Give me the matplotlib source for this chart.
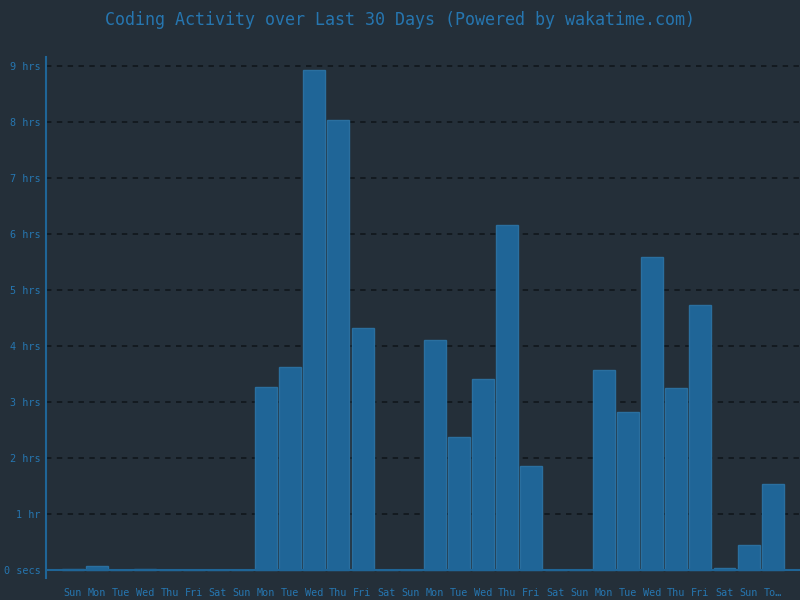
import matplotlib
matplotlib.use("Agg")
import matplotlib.pyplot as plt
import numpy as np

# hours of coding per day, last 30 days
days = ["Sun", "Mon", "Tue", "Wed", "Thu", "Fri", "Sat"] * 4 + ["Sun", "To…"]
hours = [0.01, 0.07, 0.0, 0.01, 0.0, 0.0, 0.0,
         0.0, 3.27, 3.63, 8.93, 8.04, 4.32, 0.0,
         0.0, 4.11, 2.38, 3.41, 6.16, 1.86, 0.0,
         0.0, 3.57, 2.82, 5.59, 3.25, 4.73, 0.03,
         0.45, 1.54]
ytick_vals = list(range(10))
ytick_labels = ["0 secs", "1 hr"] + [f"{h} hrs" for h in range(2, 10)]

bg = "#242f39"
txt = "#2676b0"
bar_face = "#1f6597"
bar_edge = "#2a6f9f"

plt.rcParams["font.family"] = "DejaVu Sans Mono"

fig = plt.figure(figsize=(8, 6), dpi=100, facecolor=bg)
ax = fig.add_axes([0.0575, 0.0367, 0.9425, 0.868])
ax.set_facecolor(bg)

x = np.arange(len(hours))
ax.bar(x, hours, width=0.91, color=bar_face, edgecolor=bar_edge, linewidth=1, zorder=3)

ax.set_xlim(-1.12, 30.13)
ax.set_ylim(-0.143, 9.16)

ax.set_yticks(ytick_vals)
ax.set_yticklabels(ytick_labels)
ax.set_xticks(x)
ax.set_xticklabels(days)
ax.tick_params(axis="both", length=0, colors=txt, labelsize=7.3)
ax.tick_params(axis="y", pad=4)
ax.tick_params(axis="x", pad=7)

for v in ytick_vals[1:]:
    ax.axhline(v, color="#12181e", linestyle=(0, (3, 3)), linewidth=1.3, zorder=1)
ax.axhline(0, color="#1f6597", linewidth=1.5, zorder=4)

for side in ["top", "right", "bottom"]:
    ax.spines[side].set_visible(False)
ax.spines["left"].set_color("#1f6597")
ax.spines["left"].set_linewidth(1.5)

fig.text(0.5, 1 - 20 / 600, "Coding Activity over Last 30 Days (Powered by wakatime.com)",
         ha="center", va="center", color=txt, fontsize=12.0)

fig.savefig("out.png", dpi=100, facecolor=bg)
